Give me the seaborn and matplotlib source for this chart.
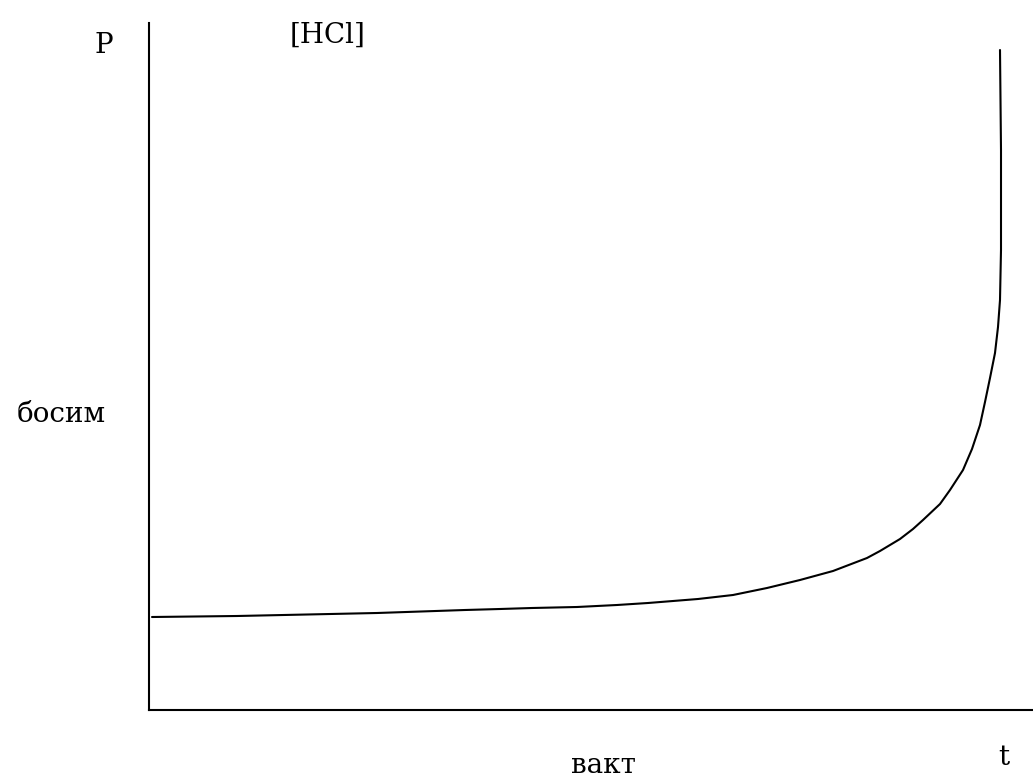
import matplotlib
matplotlib.use("Agg")
import matplotlib.pyplot as plt
import seaborn as sns
import pandas as pd

# Data (arbitrary units: time vs pressure)
time_vals = [3, 88, 228, 316, 351, 383, 428, 468, 499, 524, 549, 584, 618, 651,
             684, 718, 731, 751, 764, 774, 791, 801, 814, 823, 831, 836, 841,
             846, 849, 851, 852, 852, 851]
pressure_vals = [93, 94, 97, 100, 101, 102, 103, 105, 107, 109, 111, 115, 122, 130,
                 139, 152, 159, 171, 181, 190, 206, 220, 240, 261, 285, 308, 332,
                 357, 383, 410, 460, 560, 660]

x_label = "вакт"
y_label = "босим"
x_symbol = "t"
y_symbol = "P"
series_name = "[HCl]"

sns.set_style("white")
plt.rcParams['font.family'] = ['DejaVu Serif', 'DejaVu Sans']

W, H = 1033, 778
fig = plt.figure(figsize=(W / 100, H / 100), dpi=100)
ax = fig.add_axes([149 / W, (H - 710) / H, (W - 149) / W, (710 - 23) / H])

df = pd.DataFrame({"t": time_vals, "P": pressure_vals})
sns.lineplot(data=df, x="t", y="P", ax=ax, color="black", linewidth=1.5,
             sort=False, estimator=None)

ax.set_xlim(0, W - 149)
ax.set_ylim(0, 710 - 23)
ax.set_xticks([])
ax.set_yticks([])
ax.set_xlabel("")
ax.set_ylabel("")
for s in ["top", "right"]:
    ax.spines[s].set_visible(False)
for s in ["left", "bottom"]:
    ax.spines[s].set_color("black")
    ax.spines[s].set_linewidth(1.5)

fs = 20
def ftext(px, py, s, **kw):
    fig.text(px / W, 1 - py / H, s, fontsize=fs, color="black",
             ha="center", va="baseline", **kw)

ftext(104, 53, y_symbol)
ftext(328, 43, series_name)
ftext(61, 422, y_label)
ftext(603, 773, x_label)
ftext(1004, 765, x_symbol)

fig.savefig("out.png", dpi=100)
